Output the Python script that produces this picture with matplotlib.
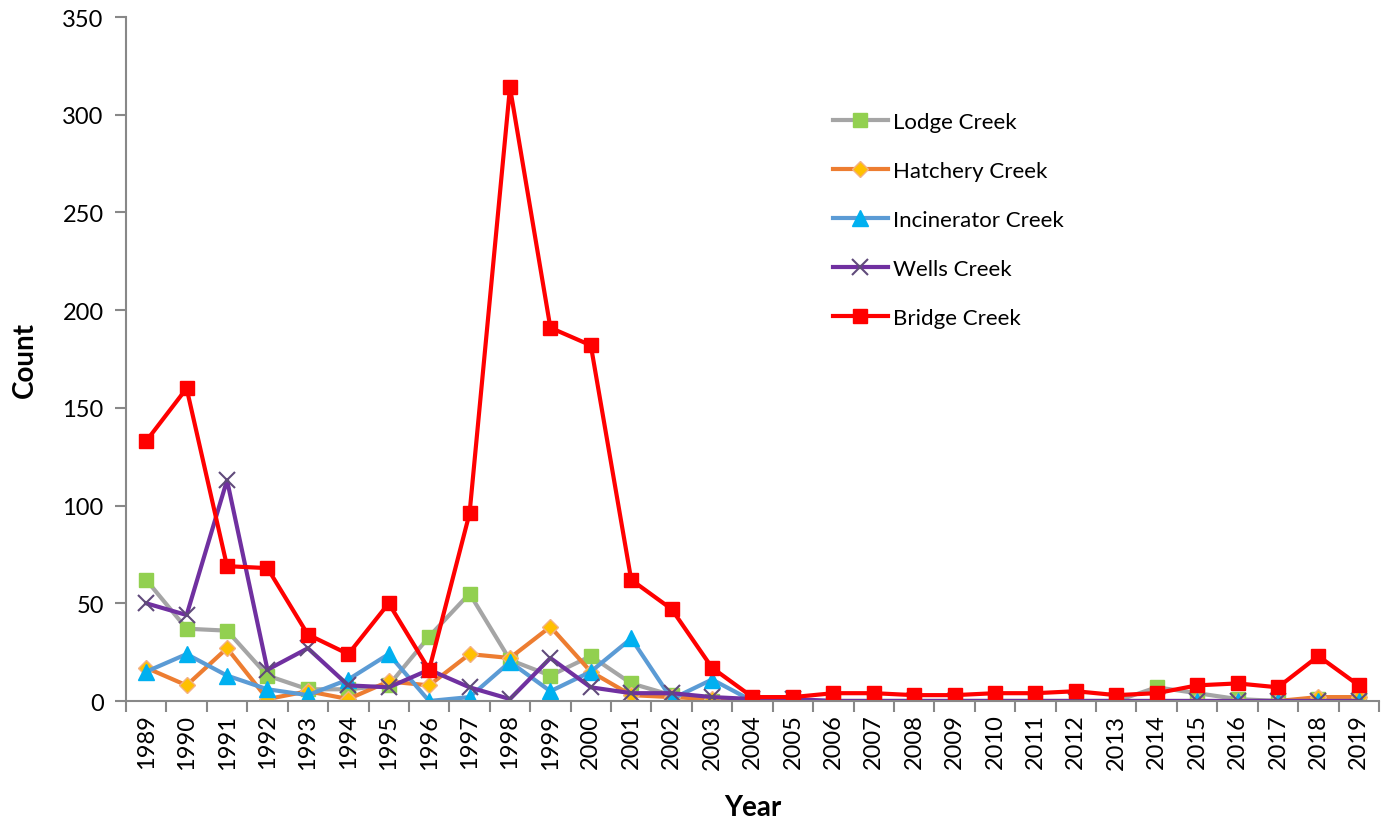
import matplotlib
matplotlib.use("Agg")
import matplotlib.pyplot as plt
import numpy as np

plt.rcParams['font.family'] = ['Lato', 'DejaVu Sans']

years = list(range(1989, 2020))

lodge = [62, 37, 36, 13, 6, 6, 8, 33, 55, 21, 13, 23, 9, 3, 0,
         0, 0, 0, 0, 0, 0, 0, 0, 0, 0, 7, 4, 1, 0, 1, 2]
hatchery = [17, 8, 27, 1, 5, 1, 10, 8, 24, 22, 38, 15, 3, 2, 1,
            0, 0, 0, 0, 0, 0, 0, 0, 0, 0, 0, 0, 0, 0, 2, 2]
incinerator = [15, 24, 13, 6, 3, 11, 24, 0, 2, 20, 5, 15, 32, 1, 11,
               0, 0, 0, 0, 0, 0, 0, 0, 0, 0, 0, 0, 0, 0, 0, 0]
wells = [50, 44, 113, 16, 27, 8, 7, 16, 7, 1, 22, 7, 4, 4, 2,
         1, 1, 0, 0, 0, 0, 0, 0, 0, 0, 0, 0, 0, 0, 0, 0]
bridge = [133, 160, 69, 68, 34, 24, 50, 16, 96, 314, 191, 182, 62, 47, 17,
          2, 2, 4, 4, 3, 3, 4, 4, 5, 3, 4, 8, 9, 7, 23, 8]

x = np.arange(len(years))

fig = plt.figure(figsize=(13.89, 8.2), dpi=100)
ax = fig.add_axes([0.0907, 0.1439, 0.9021, 0.8341])

lw = 3.0
ax.plot(x, lodge, color='#A5A5A5', lw=lw, marker='s', ms=10,
        mfc='#92D050', mec='#92D050', label='Lodge Creek')
ax.plot(x, hatchery, color='#ED7D31', lw=lw, marker='D', ms=8.5,
        mfc='#FFC000', mec='#F4B183', label='Hatchery Creek')
ax.plot(x, incinerator, color='#5B9BD5', lw=lw, marker='^', ms=12,
        mfc='#00B0F0', mec='#00B0F0', label='Incinerator Creek')
ax.plot(x, wells, color='#7030A0', lw=lw, marker='x', ms=11, mew=1.5,
        mec='#604A7B', label='Wells Creek')
ax.plot(x, bridge, color='#FF0000', lw=lw, marker='s', ms=10,
        mfc='#FF0000', mec='#FF0000', label='Bridge Creek')

ax.set_xlim(-0.5, len(years) - 0.5)
ax.set_ylim(0, 350)
ax.set_yticks(range(0, 351, 50))
ax.set_xticks(x)
ax.set_xticklabels([str(y) for y in years], rotation=90, fontsize=17)
ax.set_xticks(np.arange(-0.5, len(years), 1), minor=True)
ax.tick_params(axis='x', which='major', length=0, pad=9)
ax.tick_params(axis='x', which='minor', length=8, width=1.5, color='#888888', direction='out')
ax.tick_params(axis='y', length=8, width=1.5, color='#888888', labelsize=17, pad=8)

for s in ['top', 'right']:
    ax.spines[s].set_visible(False)
for s in ['left', 'bottom']:
    ax.spines[s].set_color('#888888')
    ax.spines[s].set_linewidth(1.5)

ax.set_xlabel('Year', fontsize=20, fontweight='bold', labelpad=18)
ax.set_ylabel('Count', fontsize=20, fontweight='bold', labelpad=18)

leg = ax.legend(loc='upper left', bbox_to_anchor=(0.548, 0.89), frameon=False,
                fontsize=16, handlelength=2.5, labelspacing=1.3, handletextpad=0.2)

fig.savefig('out.png', dpi=100)
